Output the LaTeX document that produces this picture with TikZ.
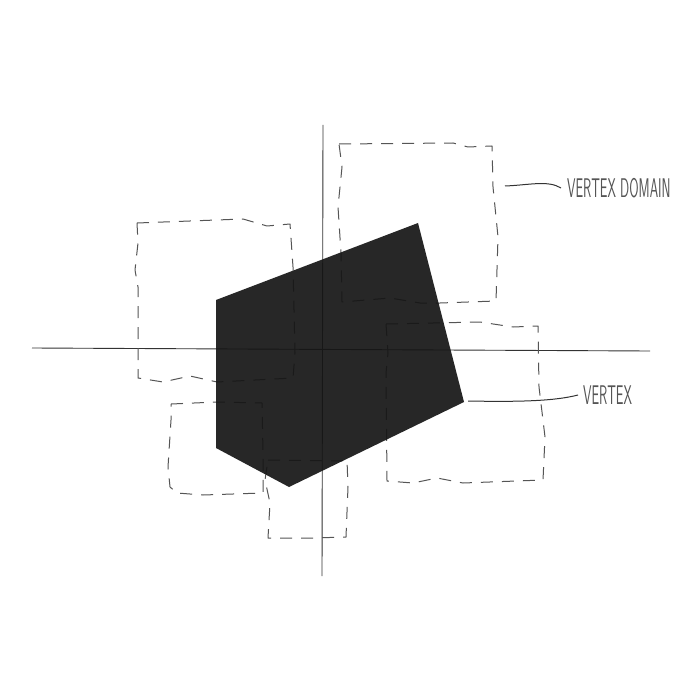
\documentclass[tikz,border=0pt]{standalone}
\usepackage{tikz}
\usetikzlibrary{positioning}
\definecolor{ink}{HTML}{151515}
\definecolor{pencil}{HTML}{555555}
\definecolor{axisgray}{HTML}{333333}

\begin{document}
\begin{tikzpicture}[x=1pt,y=-1pt,
        dom/.style={draw=pencil,line width=1pt,dash pattern=on 12pt off 9pt,line join=round},
        axis/.style={draw=axisgray,line width=0.9pt},
        lead/.style={draw=axisgray,line width=1pt},
        lbl/.style={font=\sffamily\fontsize{27}{30}\selectfont,text=pencil,inner sep=0pt,
                    anchor=west,xscale=0.5,transform shape}]
  \useasboundingbox[fill=white] (0,0) rectangle (700,700);
  % axes
  \draw[axis] (32,348) -- (650,351);
  \draw[axis] (323,125) -- (322,576);
  % vertex domains
  \draw[dom] (339,144) -- (453,143) -- (468,147) -- (492,146) -- (493,187) -- (498,237)
    -- (496,301) -- (440,303) -- (420,303) -- (390,298) -- (342,302) -- (341,253)
    -- (338,207) -- (342,167) -- cycle;
  \draw[dom] (137,223) -- (243,219) -- (267,226) -- (290,224) -- (293,267) -- (295,353)
    -- (293,378) -- (217,382) -- (190,376) -- (163,382) -- (138,378) -- (138,287)
    -- (135,270) -- (138,243) -- cycle;
  \draw[dom] (386,324) -- (480,322) -- (513,327) -- (538,326) -- (539,387) -- (545,437)
    -- (543,480) -- (463,483) -- (437,478) -- (413,483) -- (387,481) -- (386,373)
    -- (388,353) -- cycle;
  \draw[dom] (171,404) -- (217,402) -- (262,403) -- (263,453) -- (263,493) -- (203,495)
    -- (177,493) -- (170,487) -- (168,467) -- (171,420) -- cycle;
  \draw[dom] (268,460) -- (340,461) -- (347,460) -- (348,487) -- (346,537) -- (313,538)
    -- (268,538) -- (270,503) -- (265,480) -- cycle;
  % the shape, laid over the rest
  \coordinate (v1) at (216,300);
  \coordinate (v2) at (418,223);
  \coordinate (v3) at (464,402);
  \coordinate (v4) at (289,487);
  \coordinate (v5) at (216,448);
  \fill[ink,fill opacity=0.92] (v1) -- (v2) -- (v3) -- (v4) -- (v5) -- cycle;
  % labels
  \coordinate (dtip) at (505,186);
  \coordinate (vtip) at (468,401);
  \node[lbl] (domlbl) at (567,188) {VERTEX DOMAIN};
  \node[lbl] (vtxlbl) at (583,395) {VERTEX};
  \draw[lead] (dtip) .. controls (530,185) and (548,180) .. ([xshift=-6pt]domlbl.west);
  \draw[lead] (vtip) .. controls (520,402) and (555,401) .. ([xshift=-5pt]vtxlbl.west);
\end{tikzpicture}
\end{document}
